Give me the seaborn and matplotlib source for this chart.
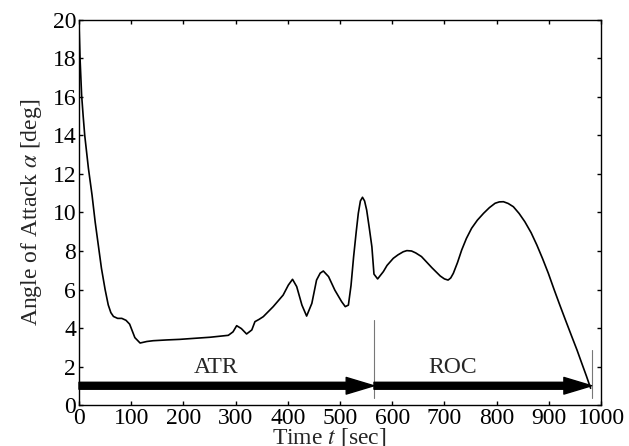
import matplotlib
matplotlib.use("Agg")
import matplotlib.pyplot as plt
import seaborn as sns
import pandas as pd

# angle of attack history
time_s = [0, 2, 5, 8, 11, 18, 25, 31, 37, 43, 50, 56, 61, 66, 74, 82, 90, 97, 107,
          117, 130, 142, 168, 193, 219, 251, 286, 295, 302, 311, 321, 331, 337,
          345, 353, 372, 391, 401, 409, 417, 427, 436, 446, 455, 462, 468, 478,
          490, 503, 510, 516, 521, 526, 531, 535, 539, 543, 547, 551, 556, 561,
          565, 572, 583, 590, 602, 611, 621, 628, 637, 645, 656, 665, 676, 692,
          700, 707, 712, 717, 725, 733, 742, 752, 763, 775, 786, 797, 805, 813,
          822, 832, 843, 854, 866, 877, 888, 899, 910, 921, 932, 944, 954, 963,
          972, 980]
alpha_deg = [19.8, 18.0, 16.1, 15.0, 14.0, 12.3, 10.9, 9.5, 8.3, 7.1, 6.0, 5.2, 4.8,
             4.6, 4.5, 4.5, 4.4, 4.2, 3.5, 3.22, 3.3, 3.34, 3.38, 3.41, 3.46, 3.52,
             3.62, 3.8, 4.12, 3.97, 3.69, 3.9, 4.33, 4.45, 4.59, 5.11, 5.71, 6.23,
             6.53, 6.15, 5.19, 4.62, 5.28, 6.49, 6.85, 6.96, 6.67, 5.97, 5.37, 5.11,
             5.19, 6.2, 7.7, 9.0, 9.96, 10.6, 10.79, 10.6, 10.13, 9.2, 8.22, 6.8,
             6.55, 6.93, 7.25, 7.62, 7.8, 7.96, 8.02, 8.0, 7.9, 7.71, 7.45, 7.13,
             6.7, 6.55, 6.49, 6.6, 6.84, 7.4, 8.05, 8.65, 9.18, 9.6, 9.96, 10.25,
             10.48, 10.55, 10.56, 10.47, 10.3, 9.95, 9.52, 8.95, 8.31, 7.6, 6.84,
             6.0, 5.19, 4.4, 3.55, 2.85, 2.17, 1.5, 0.87]

# flight phases: name, start, end
phase_names = ["ATR", "ROC"]
phase_start = [0, 565]
phase_end = [565, 982]
phase_label_x = [262, 716]

df = pd.DataFrame({"t": time_s, "alpha": alpha_deg})

sns.set_style("ticks")
plt.rcParams["font.family"] = ["Liberation Serif", "DejaVu Serif"]
plt.rcParams["mathtext.fontset"] = "stix"
plt.rcParams["font.size"] = 17

fig = plt.figure(figsize=(6.29, 4.46), dpi=100)
ax = fig.add_axes([0.1256, 0.0919, 0.83, 0.8633])

sns.lineplot(data=df, x="t", y="alpha", color="black", lw=1.2, ax=ax)

# phase arrows
for name, t0, t1, tx in zip(phase_names, phase_start, phase_end, phase_label_x):
    ax.annotate("", xy=(t1, 1), xytext=(t0, 1),
                arrowprops=dict(arrowstyle="simple,head_length=1.0,head_width=0.6,tail_width=0.25",
                                mutation_scale=20, fc="black", ec="black",
                                shrinkA=0, shrinkB=0))
    ax.text(tx, 1.95, name, ha="center", va="center", fontsize=17)

ax.plot([565, 565], [0.35, 4.4], color="#777777", lw=0.8)
ax.plot([982, 982], [0.35, 2.85], color="#777777", lw=0.8)

ax.set_xlim(0, 1000)
ax.set_ylim(0, 20)
ax.set_xticks(range(0, 1001, 100))
ax.set_yticks(range(0, 21, 2))
ax.tick_params(direction="in", length=3, width=1, top=True, right=True,
               labelsize=17, pad=2, colors="black")
for s in ax.spines.values():
    s.set_linewidth(1.0)
    s.set_color("black")

ax.set_xlabel("Time $t$ [sec]", fontsize=17, labelpad=-2)
ax.xaxis.label.set_x(0.48)
ax.set_ylabel(r"Angle of Attack $\alpha$ [deg]", fontsize=17, labelpad=6)

fig.savefig("out.png", dpi=100)
